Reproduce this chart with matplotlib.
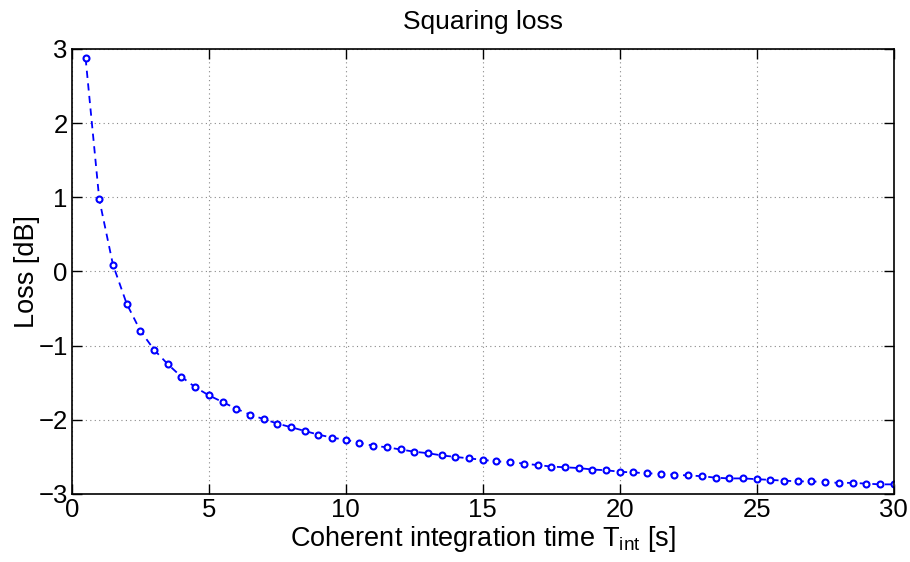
import numpy as np
import matplotlib
matplotlib.use('Agg')
import matplotlib.pyplot as plt

plt.rcParams['font.family'] = ['Liberation Sans', 'DejaVu Sans']
plt.rcParams['mathtext.fontset'] = 'custom'
plt.rcParams['mathtext.rm'] = 'Liberation Sans'

# coherent integration time [s]
t_int = [0.5, 1.0, 1.5, 2.0, 2.5, 3.0, 3.5, 4.0, 4.5, 5.0,
         5.5, 6.0, 6.5, 7.0, 7.5, 8.0, 8.5, 9.0, 9.5, 10.0,
         10.5, 11.0, 11.5, 12.0, 12.5, 13.0, 13.5, 14.0, 14.5, 15.0,
         15.5, 16.0, 16.5, 17.0, 17.5, 18.0, 18.5, 19.0, 19.5, 20.0,
         20.5, 21.0, 21.5, 22.0, 22.5, 23.0, 23.5, 24.0, 24.5, 25.0,
         25.5, 26.0, 26.5, 27.0, 27.5, 28.0, 28.5, 29.0, 29.5, 30.0]
# squaring loss [dB]
loss_db = [2.875, 0.97, 0.09, -0.435, -0.80, -1.055, -1.25, -1.42, -1.56, -1.67,
           -1.76, -1.85, -1.93, -1.99, -2.05, -2.10, -2.15, -2.20, -2.24, -2.27,
           -2.31, -2.35, -2.37, -2.40, -2.43, -2.45, -2.48, -2.50, -2.52, -2.54,
           -2.56, -2.57, -2.59, -2.61, -2.63, -2.64, -2.65, -2.67, -2.68, -2.70,
           -2.71, -2.72, -2.73, -2.74, -2.75, -2.76, -2.78, -2.79, -2.79, -2.80,
           -2.81, -2.82, -2.83, -2.83, -2.84, -2.85, -2.85, -2.86, -2.87, -2.87]
xticks = [0, 5, 10, 15, 20, 25, 30]
yticks = [-3, -2, -1, 0, 1, 2, 3]

fig = plt.figure(figsize=(9.1, 5.62), dpi=100)
ax = fig.add_axes([0.079, 0.121, 0.903, 0.792])

ax.plot(t_int, loss_db, color='#0000ff', linestyle='--', linewidth=1.3,
        dashes=(4, 3), marker='o', markersize=4.3, markerfacecolor='white',
        markeredgecolor='#0000ff', markeredgewidth=1.5)

ax.set_xlim(0, 30)
ax.set_ylim(-3, 3)
ax.set_xticks(xticks)
ax.set_yticks(yticks)
ax.set_xticklabels([str(v) for v in xticks])
ax.set_yticklabels([str(v).replace('-', '\u2212') for v in yticks])
ax.tick_params(direction='in', top=True, right=True, labelsize=18.5,
               length=7, width=1, pad=3)
ax.grid(True, linestyle=(0, (1, 3)), color='#888888', linewidth=0.8)
for s in ax.spines.values():
    s.set_linewidth(1.2)

ax.set_title('Squaring loss', fontsize=19, pad=14)
ax.set_xlabel('Coherent integration time T$_{\\mathregular{int}}$ [s]', fontsize=19.5, labelpad=1)
ax.set_ylabel('Loss [dB]', fontsize=19.5, labelpad=-1)

fig.savefig('out.png', dpi=100)
